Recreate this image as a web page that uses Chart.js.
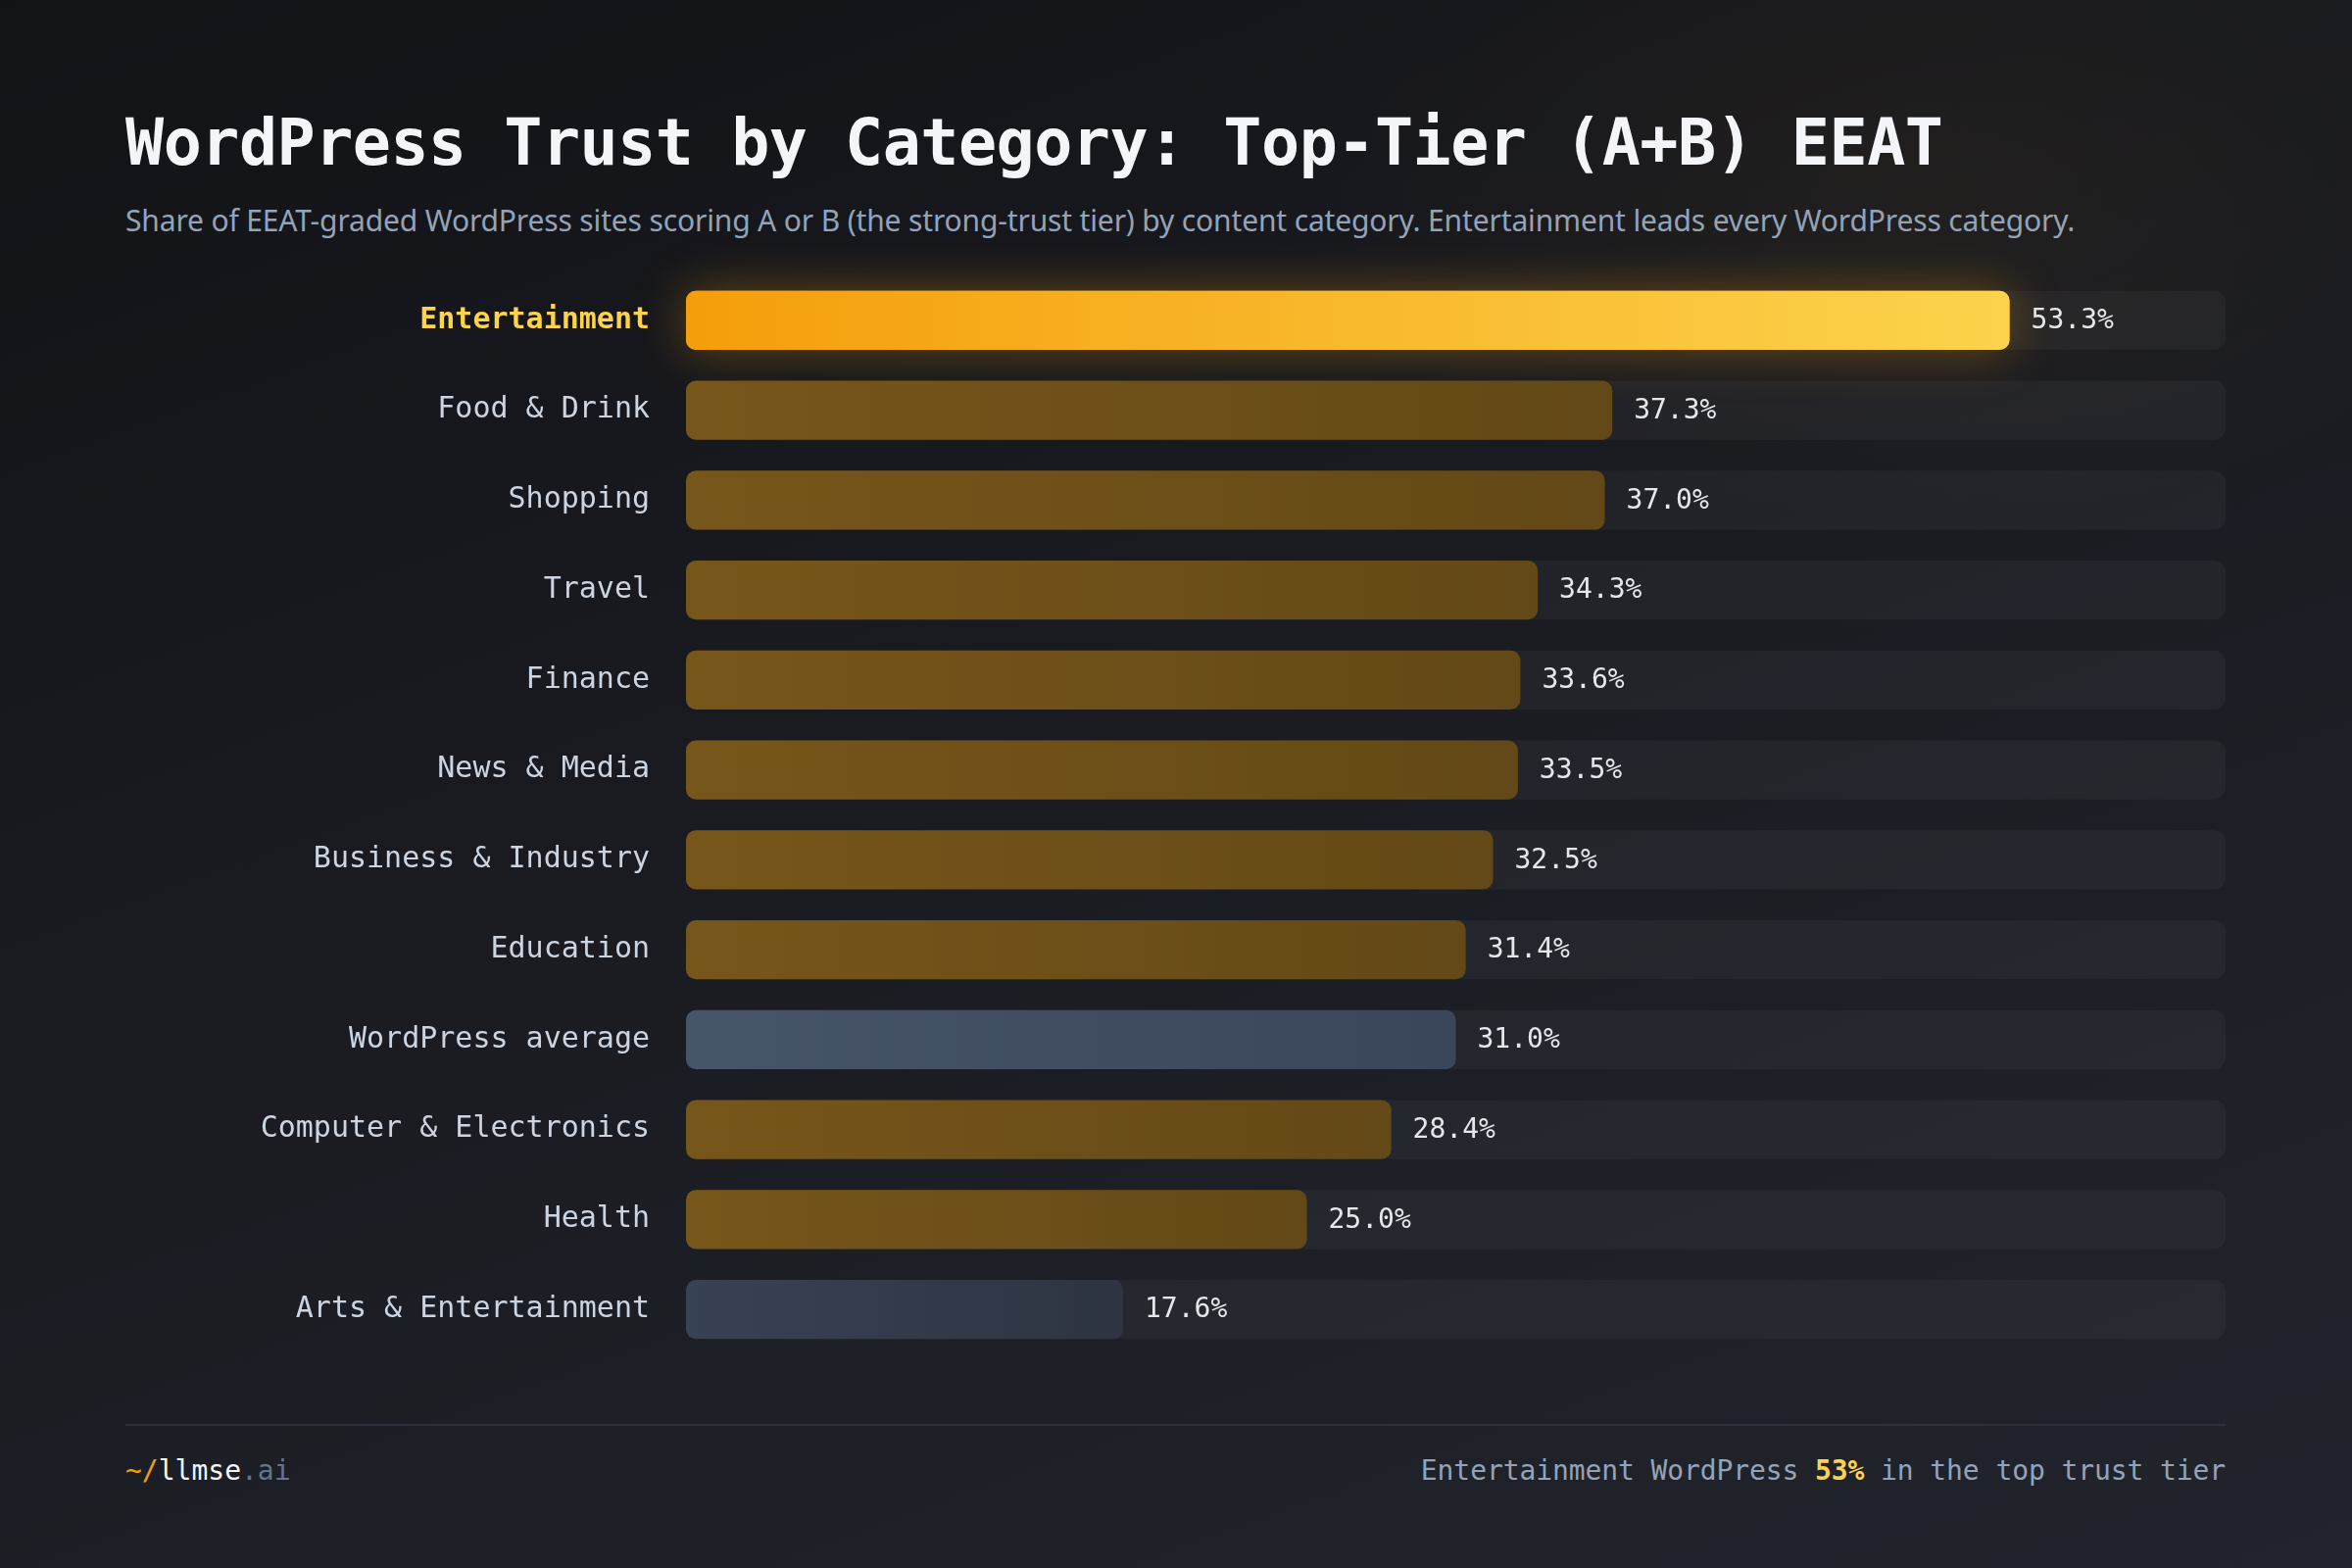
<!DOCTYPE html>
<html>
<head>
<meta charset="utf-8">
<script src="https://cdn.jsdelivr.net/npm/chart.js@4"></script>
<style>
  html, body { margin: 0; padding: 0; }
  body {
    width: 2400px; height: 1600px; overflow: hidden; position: relative;
    background:
      radial-gradient(ellipse 900px 500px at 82% 12%, rgba(245,158,11,0.045), rgba(245,158,11,0) 70%),
      linear-gradient(160deg, #121317 0%, #1a1c22 50%, #21242c 100%);
    font-family: "DejaVu Sans Mono", monospace;
  }
  #title {
    position: absolute; left: 128px; top: 108px; margin: 0;
    font: bold 65px "DejaVu Sans Mono", monospace; color: #f3f5f9; letter-spacing: -0.5px;
  }
  #subtitle {
    position: absolute; left: 128px; top: 204px; margin: 0;
    font: 30px "Noto Sans", sans-serif; color: #94a3b8; letter-spacing: -0.15px;
  }
  #wrap { position: absolute; left: 0; top: 226px; width: 2400px; height: 1211px; }
  #rule { position: absolute; left: 128px; width: 2143px; top: 1453px; height: 2px; background: #2c303a; }
  #brand { position: absolute; left: 128px; top: 1484px; font: 28px "DejaVu Sans Mono", monospace; color: #f1f5f9; }
  #note { position: absolute; right: 129px; top: 1484px; font: 28px "DejaVu Sans Mono", monospace; color: #94a3b8; letter-spacing: -0.1px; }
</style>
</head>
<body>
<h1 id="title">WordPress Trust by Category: Top-Tier (A+B) EEAT</h1>
<p id="subtitle">Share of EEAT-graded WordPress sites scoring A or B (the strong-trust tier) by content category. Entertainment leads every WordPress category.</p>
<div id="wrap"><canvas id="trustChart"></canvas></div>
<div id="rule"></div>
<div id="brand"><span style="color:#f59e0b">~/</span>llmse<span style="color:#64748b">.ai</span></div>
<div id="note">Entertainment WordPress <b style="color:#fcd34d">53%</b> in the top trust tier</div>

<script>
const categories = ['Entertainment', 'Food & Drink', 'Shopping', 'Travel', 'Finance', 'News & Media',
  'Business & Industry', 'Education', 'WordPress average', 'Computer & Electronics', 'Health', 'Arts & Entertainment'];
const topTierShare = [53.3, 37.3, 37.0, 34.3, 33.6, 33.5, 32.5, 31.4, 31.0, 28.4, 25.0, 17.6];
const axisMax = 62;
const trackValues = categories.map(() => axisMax);

function barFill(context) {
  const chart = context.chart;
  const x = chart.scales.x;
  if (!chart.chartArea || !x) return '#76561a';
  const i = context.dataIndex;
  const left = x.getPixelForValue(0);
  const right = x.getPixelForValue(topTierShare[i]);
  const g = chart.ctx.createLinearGradient(left, 0, right, 0);
  const name = categories[i];
  if (i === 0) {
    g.addColorStop(0, '#f59e0b');
    g.addColorStop(1, '#fcd34d');
  } else if (name === 'WordPress average') {
    g.addColorStop(0, '#475569');
    g.addColorStop(1, '#3a4659');
  } else if (name === 'Arts & Entertainment') {
    g.addColorStop(0, '#384255');
    g.addColorStop(1, '#2e3441');
  } else {
    g.addColorStop(0, '#77561a');
    g.addColorStop(1, '#634917');
  }
  return g;
}

// soft amber glow behind the leading bar
const glowPlugin = {
  id: 'glow',
  beforeDatasetDraw(chart, args) {
    if (args.index !== 0) return;
    const bar = chart.getDatasetMeta(0).data[0];
    if (!bar) return;
    const ctx = chart.ctx;
    const h = bar.height;
    ctx.save();
    ctx.shadowColor = 'rgba(245,158,11,0.4)';
    ctx.shadowBlur = 50;
    ctx.fillStyle = 'rgba(245,158,11,0.9)';
    ctx.beginPath();
    ctx.roundRect(bar.base, bar.y - h / 2, bar.x - bar.base, h, 10);
    ctx.fill();
    ctx.restore();
  }
};

const valueLabels = {
  id: 'valueLabels',
  afterDatasetsDraw(chart) {
    const ctx = chart.ctx;
    ctx.save();
    ctx.font = '28px "DejaVu Sans Mono", monospace';
    ctx.fillStyle = '#e5e7eb';
    ctx.textAlign = 'left';
    ctx.textBaseline = 'middle';
    chart.getDatasetMeta(0).data.forEach((bar, i) => {
      ctx.fillText(topTierShare[i].toFixed(1) + '%', bar.x + 22, bar.y + 1);
    });
    ctx.restore();
  }
};

new Chart(document.getElementById('trustChart'), {
  type: 'bar',
  data: {
    labels: categories,
    datasets: [
      {
        label: 'Top-tier share',
        data: topTierShare,
        backgroundColor: barFill,
        borderRadius: 10,
        borderSkipped: false,
        order: 1
      },
      {
        label: 'track',
        data: trackValues,
        backgroundColor: 'rgba(255,255,255,0.038)',
        borderRadius: 12,
        borderSkipped: false,
        order: 2
      }
    ]
  },
  options: {
    indexAxis: 'y',
    responsive: true,
    maintainAspectRatio: false,
    animation: false,
    datasets: { bar: { grouped: false, barPercentage: 0.655, categoryPercentage: 1 } },
    layout: { padding: { top: 20, bottom: 18, right: 129, left: 0 } },
    plugins: { legend: { display: false }, tooltip: { enabled: false } },
    scales: {
      x: { display: false, min: 0, max: axisMax },
      y: {
        afterFit(scale) { scale.width = 700; },
        grid: { display: false, drawTicks: false },
        border: { display: false },
        ticks: {
          padding: 37,
          color: ctx => ctx.index === 0 ? '#fcd34d' : '#cbd5e1',
          font: ctx => ({ family: '"DejaVu Sans Mono", monospace', size: 30, weight: ctx.index === 0 ? 'bold' : 'normal' })
        }
      }
    }
  },
  plugins: [glowPlugin, valueLabels]
});
</script>
</body>
</html>
